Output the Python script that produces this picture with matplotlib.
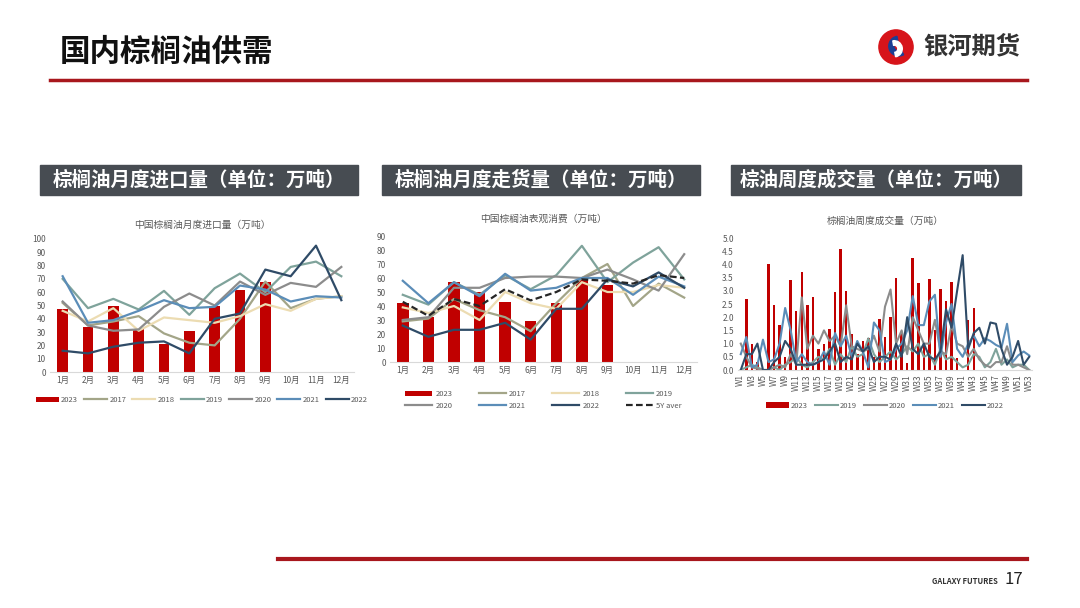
import matplotlib
matplotlib.use("Agg")
import matplotlib.pyplot as plt
import numpy as np
from matplotlib.patches import Rectangle, Circle, Wedge
from matplotlib.lines import Line2D

plt.rcParams['font.family'] = ['Noto Sans CJK SC', 'DejaVu Sans']

W, H = 1080, 608

# ---- 数据 ----
months = ['1月', '2月', '3月', '4月', '5月', '6月', '7月', '8月', '9月', '10月', '11月', '12月']

# 月度进口量
imp_2023 = [47, 34, 50, 32, 21, 31, 50, 62, 68]
imp_2017 = [52, 35, 38, 42, 29, 22, 20, 40, 68, 48, 55, 57]
imp_2018 = [46, 38, 48, 31, 41, 39, 37, 42, 51, 46, 55, 57]
imp_2019 = [70, 48, 55, 47, 61, 43, 63, 74, 60, 79, 83, 72]
imp_2020 = [53, 35, 31, 32, 49, 59, 50, 68, 58, 67, 64, 79]
imp_2021 = [72, 37, 39, 46, 54, 48, 49, 65, 62, 53, 57, 56]
imp_2022 = [16, 14, 19, 22, 23, 14, 40, 44, 77, 72, 95, 54]

# 表观消费
con_2023 = [42, 32, 57, 50, 43, 29, 42, 59, 55]
con_2017 = [29, 31, 45, 37, 32, 22, 42, 60, 70, 40, 56, 46]
con_2018 = [39, 35, 40, 30, 50, 42, 38, 57, 50, 50, 55, 53]
con_2019 = [48, 41, 57, 48, 62, 52, 62, 83, 57, 71, 82, 59]
con_2020 = [30, 32, 53, 53, 60, 61, 61, 60, 66, 59, 51, 77]
con_2021 = [58, 42, 57, 47, 63, 51, 53, 60, 60, 48, 61, 54]
con_2022 = [26, 18, 23, 23, 28, 16, 38, 38, 59, 54, 64, 53]
con_5y = [43, 33, 45, 40, 52, 44, 50, 59, 58, 56, 62, 60]

# 周度成交量
weeks = ['W%d' % i for i in range(1, 54)]
wk_2023 = [0.0, 2.7, 1.0, 0.3, 0.0, 4.0, 2.45, 1.7, 0.5, 3.4, 2.25, 3.7, 2.45, 2.75, 0.8,
           1.0, 1.55, 2.95, 4.6, 3.0, 1.35, 0.6, 1.1, 1.2, 0.5, 1.95, 1.25, 2.0, 3.5, 1.4,
           0.25, 4.25, 3.3, 1.0, 3.45, 1.5, 3.05, 2.6, 3.35, 0.45, 0.0, 1.9, 2.35]
wk_2019 = [0.0, 0.1, 0.2, 0.1, 0.0, 0.0, 0.1, 0.0, 0.2, 0.3, 0.5, 0.2, 0.1, 0.3, 0.5,
           0.4, 0.8, 0.2, 0.6, 0.3, 0.9, 0.5, 0.6, 1.2, 0.6, 0.3, 0.5, 0.7, 0.4, 0.6,
           0.9, 0.7, 1.0, 0.5, 0.6, 0.2, 0.8, 0.4, 0.5, 0.3, 0.1, 0.2, 0.6, 0.5, 0.1,
           0.3, 0.8, 0.2, 0.4, 0.1, 0.2, 0.2, 0.0]
wk_2020 = [1.0, 0.5, 0.1, 0.05, 0.0, 0.0, 0.1, 0.2, 0.1, 0.6, 0.2, 2.75, 0.8, 1.3, 1.0,
           1.5, 1.1, 1.3, 0.9, 2.45, 0.9, 0.8, 0.7, 0.8, 1.3, 0.7, 2.4, 3.05, 1.0, 1.5,
           0.6, 2.0, 1.5, 1.0, 1.0, 1.9, 0.7, 0.6, 1.7, 1.0, 0.9, 0.5, 0.8, 0.4, 0.2,
           0.1, 0.3, 0.3, 0.9, 0.2, 0.2, 0.1, 0.0]
wk_2021 = [0.6, 1.25, 0.1, 0.2, 1.15, 0.3, 0.4, 1.0, 2.35, 1.5, 0.3, 0.6, 0.3, 0.2, 0.3,
           0.7, 0.2, 1.4, 0.9, 1.3, 0.5, 1.1, 0.7, 0.1, 1.8, 1.5, 0.3, 0.4, 0.8, 1.0,
           1.5, 2.8, 1.7, 1.7, 2.6, 2.85, 0.5, 1.8, 2.5, 0.8, 0.5, 1.0, 1.3, 0.9, 1.2,
           1.1, 0.95, 0.85, 1.75, 0.3, 0.55, 0.7, 0.55]
wk_2022 = [0.0, 0.6, 0.6, 1.0, 0.0, 0.0, 0.3, 0.5, 1.1, 0.8, 0.2, 0.2, 0.2, 0.2, 0.3,
           0.4, 0.7, 1.0, 0.3, 0.5, 0.4, 1.0, 0.7, 0.9, 0.3, 0.5, 0.5, 0.4, 1.0, 0.5,
           2.0, 0.8, 0.6, 1.0, 0.5, 0.4, 0.7, 2.3, 1.6, 3.0, 4.35, 0.8, 1.4, 1.6, 1.0,
           1.8, 1.75, 0.8, 0.2, 0.5, 1.1, 0.2, 0.5]

# ---- 样式 ----
RED = '#c00000'
C17, C18, C19 = '#a3a588', '#ecdcb2', '#7fa39b'
C20, C21, C22 = '#8c8c8c', '#5b8db8', '#2f4b67'
TXT = '#595959'


def rect(x0, y0, x1, y1):
    return [x0 / W, 1 - y1 / H, (x1 - x0) / W, (y1 - y0) / H]


fig = plt.figure(figsize=(W / 100, H / 100), dpi=100)
fig.patch.set_facecolor('white')

# 页眉
fig.text(60 / W, 1 - 52 / H, '国内棕榈油供需', fontsize=22, fontweight='bold',
         color='#111111', va='center', ha='left')
fig.text(923 / W, 1 - 46 / H, '银河期货', fontsize=17.5, fontweight='bold',
         color='#333333', va='center', ha='left')
logo = fig.add_axes(rect(876, 29, 916, 65))
logo.set_xlim(-1, 1)
logo.set_ylim(-1, 1)
logo.set_aspect('equal')
logo.axis('off')
logo.add_patch(Circle((0, 0), 0.95, color='#d7141a'))
logo.add_patch(Wedge((0.15, 0.05), 0.55, 100, 300, width=0.28, color='#1c3f94'))
logo.add_patch(Wedge((-0.1, -0.1), 0.45, 280, 460, width=0.25, color='white'))
fig.add_artist(Line2D([50 / W, 1027 / W], [1 - 80 / H, 1 - 80 / H], color='#a8171d', lw=2.5))

# 页脚
fig.add_artist(Line2D([278 / W, 1027 / W], [1 - 559 / H, 1 - 559 / H], color='#a8171d', lw=3))
fig.text(998 / W, 1 - 581 / H, 'GALAXY FUTURES', fontsize=5.5, color='#333333',
         ha='right', va='center', fontweight='bold')
fig.text(1005 / W, 1 - 580 / H, '17', fontsize=12, color='#222222', ha='left', va='center')

# 标题框
boxes = [(40, 358, '棕榈油月度进口量（单位：万吨）'),
         (382, 700, '棕榈油月度走货量（单位：万吨）'),
         (731, 1021, '棕油周度成交量（单位：万吨）')]
for x0, x1, t in boxes:
    fig.add_artist(Rectangle((x0 / W, 1 - 195 / H), (x1 - x0) / W, 30 / H,
                             transform=fig.transFigure, color='#474c52'))
    fig.text((x0 + x1) / 2 / W, 1 - 180 / H, t, fontsize=14, fontweight='bold',
             color='white', ha='center', va='center')


def style(ax):
    for s in ['top', 'right', 'left']:
        ax.spines[s].set_visible(False)
    ax.spines['bottom'].set_color('#d9d9d9')
    ax.tick_params(length=0, labelsize=6, colors=TXT, pad=3)


# ---- 图1 进口量 ----
ax1 = fig.add_axes(rect(50, 239, 354, 372))
x = np.arange(12)
hs = [ax1.bar(np.arange(len(imp_2023)), imp_2023, width=0.42, color=RED, label='2023', zorder=1)]
for d, c, lab in [(imp_2017, C17, '2017'), (imp_2018, C18, '2018'), (imp_2019, C19, '2019'),
                  (imp_2020, C20, '2020'), (imp_2021, C21, '2021'), (imp_2022, C22, '2022')]:
    hs.append(ax1.plot(x, d, color=c, lw=1.6, label=lab, zorder=2)[0])
ax1.set_xlim(-0.5, 11.5)
ax1.set_ylim(0, 100)
ax1.set_yticks(range(0, 101, 10))
ax1.set_xticks(x)
ax1.set_xticklabels(months)
style(ax1)
ax1.set_title('中国棕榈油月度进口量（万吨）', fontsize=7, color=TXT, pad=8)
ax1.legend(hs, [o.get_label() for o in hs], loc='center', bbox_to_anchor=(0.5, -0.21),
           ncol=7, frameon=False, fontsize=5.5, handlelength=3, columnspacing=0.8,
           handletextpad=0.3, labelcolor=TXT)

# ---- 图2 表观消费 ----
ax2 = fig.add_axes(rect(390, 236, 697, 362))
b2 = ax2.bar(np.arange(len(con_2023)), con_2023, width=0.45, color=RED, label='2023', zorder=1)
lines = {}
for d, c, lab in [(con_2017, C17, '2017'), (con_2018, C18, '2018'), (con_2019, C19, '2019'),
                  (con_2020, C20, '2020'), (con_2021, C21, '2021'), (con_2022, C22, '2022')]:
    lines[lab], = ax2.plot(x, d, color=c, lw=1.6, label=lab, zorder=2)
lines['5Y'], = ax2.plot(x, con_5y, color='#262626', lw=1.6, ls='--', dashes=(3, 1.5),
                        label='5Y aver', zorder=3)
ax2.set_xlim(-0.5, 11.5)
ax2.set_ylim(0, 90)
ax2.set_yticks(range(0, 91, 10))
ax2.set_xticks(x)
ax2.set_xticklabels(months)
style(ax2)
ax2.set_title('中国棕榈油表观消费（万吨）', fontsize=7, color=TXT, pad=10)
order = [b2, lines['2020'], lines['2017'], lines['2021'], lines['2018'], lines['2022'],
         lines['2019'], lines['5Y']]
ax2.legend(order, [o.get_label() for o in order], loc='center', bbox_to_anchor=(0.5, -0.3),
           ncol=4, frameon=False, fontsize=5.5, handlelength=3.5, columnspacing=3.5,
           handletextpad=0.4, labelcolor=TXT)

# ---- 图3 周度成交量 ----
ax3 = fig.add_axes(rect(738, 238, 1032, 370))
xw = np.arange(1, 54)
h3 = [ax3.bar(np.arange(1, len(wk_2023) + 1), wk_2023, width=0.45, color=RED, label='2023', zorder=1)]
for d, c, lab in [(wk_2019, C19, '2019'), (wk_2020, C20, '2020'),
                  (wk_2021, C21, '2021'), (wk_2022, C22, '2022')]:
    h3.append(ax3.plot(xw, d, color=c, lw=1.5, label=lab, zorder=2)[0])
ax3.set_xlim(0.5, 53.5)
ax3.set_ylim(0, 5)
ax3.set_yticks(np.arange(0, 5.01, 0.5))
ax3.set_yticklabels(['%.1f' % v for v in np.arange(0, 5.01, 0.5)])
ax3.set_xticks(xw[::2])
ax3.set_xticklabels(weeks[::2], rotation=90)
style(ax3)
ax3.set_title('棕榈油周度成交量（万吨）', fontsize=7, color=TXT, pad=10)
ax3.legend(h3, [o.get_label() for o in h3], loc='center', bbox_to_anchor=(0.5, -0.27),
           ncol=5, frameon=False, fontsize=5.5, handlelength=3, columnspacing=0.9,
           handletextpad=0.3, labelcolor=TXT)

fig.savefig('out.png', dpi=100)
